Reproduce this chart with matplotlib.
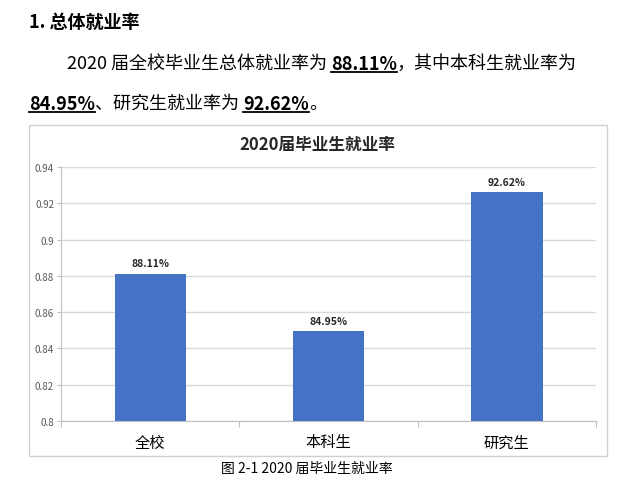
import matplotlib
matplotlib.use("Agg")
import matplotlib.pyplot as plt
from matplotlib.patches import Rectangle
from matplotlib.lines import Line2D

plt.rcParams['font.family'] = ['Noto Sans CJK SC', 'DejaVu Sans']

# data
categories = ['全校', '本科生', '研究生']
rates = [0.8811, 0.8495, 0.9262]
rate_labels = ['88.11%', '84.95%', '92.62%']
yticks = [0.8, 0.82, 0.84, 0.86, 0.88, 0.9, 0.92, 0.94]

W, H = 626, 485
fig = plt.figure(figsize=(W / 100, H / 100), dpi=100)


def fx(x):
    return x / W


def fy(y):
    return 1 - y / H


# chart frame
fig.patches.append(Rectangle((fx(29), fy(457)), fx(607) - fx(29), fy(126) - fy(457),
                             transform=fig.transFigure, fill=False,
                             edgecolor='#d0d0d0', linewidth=1))

ax = fig.add_axes([fx(61), fy(422), fx(596) - fx(61), fy(168) - fy(422)])
x = range(len(categories))
ax.bar(x, rates, width=0.4, color='#4472c4', zorder=3)
for i, (v, lab) in enumerate(zip(rates, rate_labels)):
    ax.text(i, v + 0.003, lab, ha='center', va='bottom', fontsize=7.5,
            fontweight='bold', color='#262626')

ax.set_ylim(0.8, 0.94)
ax.set_xlim(-0.5, 2.5)
ax.set_yticks(yticks)
ax.set_yticklabels(['%g' % t for t in yticks], fontsize=7, color='#595959')
ax.yaxis.grid(True, color='#d9d9d9', linewidth=1, zorder=0)
ax.set_xticks([-0.5, 0.5, 1.5, 2.5])
ax.set_xticklabels([])
ax.set_xticks(list(x), minor=True)
ax.set_xticklabels(categories, minor=True, fontsize=11, color='#000000')
ax.tick_params(axis='x', which='minor', length=0, pad=9)
ax.tick_params(axis='x', which='major', length=4, color='#bfbfbf')
ax.tick_params(axis='y', length=3, color='#bfbfbf', pad=2)
for s in ['top', 'right']:
    ax.spines[s].set_visible(False)
ax.spines['left'].set_color('#bfbfbf')
ax.spines['bottom'].set_color('#bfbfbf')

fig.text(fx(317), fy(145), '2020届毕业生就业率', ha='center', va='center',
         fontsize=12, fontweight='bold', color='#262626')

# document text around the chart
fig.text(fx(29), fy(22), '1. 总体就业率', ha='left', va='center',
         fontsize=13, fontweight='bold', color='#000000')
fig.text(fx(307), fy(469), '图 2-1 2020 届毕业生就业率', ha='center', va='center',
         fontsize=10, color='#000000')

fig.canvas.draw()
renderer = fig.canvas.get_renderer()


def write_line(x0, y0, parts, size=13):
    # parts: list of (text, bold_underlined)
    xpos = x0
    for txt, strong in parts:
        t = fig.text(fx(xpos), fy(y0), txt, ha='left', va='center', fontsize=size,
                     fontweight='bold' if strong else 'normal', color='#000000')
        bb = t.get_window_extent(renderer)
        if strong:
            ly = fy(y0 + 9)
            fig.lines.append(Line2D([fx(bb.x0), fx(bb.x1)], [ly, ly],
                                    transform=fig.transFigure, color='#000000',
                                    linewidth=1.3))
        xpos += bb.width


write_line(67, 64, [('2020 届全校毕业生总体就业率为 ', False), (rate_labels[0], True),
                    ('，其中本科生就业率为', False)])
write_line(29, 104, [(rate_labels[1], True), ('、研究生就业率为 ', False),
                     (rate_labels[2], True), ('。', False)])

fig.savefig('out.png', dpi=100)
